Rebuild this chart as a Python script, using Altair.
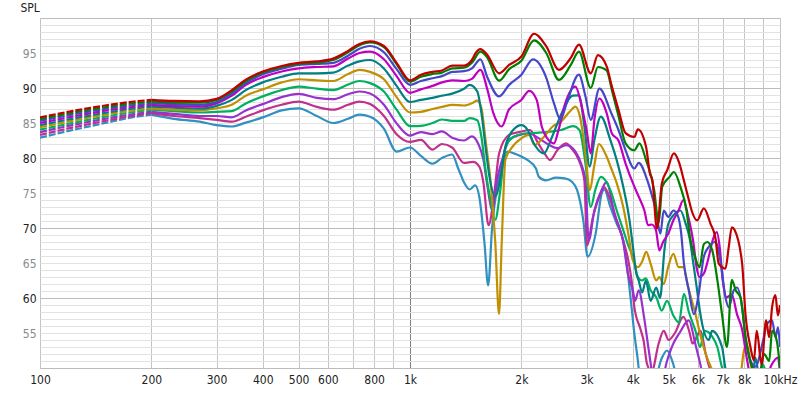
import altair as alt
import pandas as pd

FONT = "Liberation Sans Narrow, DejaVu Sans Condensed, sans-serif"

series_names = ["0°", "10°", "20°", "30°", "40°", "50°", "60°", "70°", "80°", "90°"]
series_colors = ["#c00000", "#008000", "#4646c8", "#c000c0", "#008080",
                 "#c09000", "#00b060", "#9932cc", "#c0308c", "#3090c0"]

low_freq = [100, 125, 150, 175, 200]
mid_freq = [200, 230, 270, 300, 330, 360, 400, 450, 500, 560, 620, 680, 730, 780,
            850, 920, 1000, 1070, 1150, 1220, 1300]

# ---- s0 (red)
low_s0 = [85.8, 86.8, 87.5, 88.0, 88.3]
mid_s0 = [88.3, 88.15, 88.1, 88.45, 89.7, 91.2, 92.35, 93.15, 93.6, 93.8, 94.2, 95.3, 96.3, 96.65,
          96.0, 93.6, 91.1, 91.9, 92.3, 92.5, 93.2]
hi_s0 = [(1400, 93.2), (1470, 94.0), (1505, 95.0), (1550, 95.55), (1616, 94.75), (1741, 92.1),
         (1853, 93.3), (2000, 94.5), (2164, 97.75), (2335, 95.95), (2527, 92.6), (2720, 94.3),
         (2862, 96.2), (3080, 92.1), (3220, 94.7), (3400, 93.1), (3513, 90.2), (3660, 86.9),
         (3825, 83.55), (4040, 83.0), (4129, 84.1), (4345, 81.6), (4450, 77.8), (4520, 76.8),
         (4648, 69.9), (4795, 76.4), (4960, 78.3), (5166, 80.65), (5329, 79.45), (5498, 76.8),
         (5671, 74.0), (5770, 72.5), (5970, 71.1), (6225, 72.8), (6490, 70.6), (6694, 68.5),
         (6830, 64.9), (7120, 64.2), (7270, 67.3), (7410, 70.1), (7540, 69.7), (7900, 64.9),
         (8066, 57.7), (8320, 53.0), (8500, 51.1), (8650, 55.3), (8920, 50.5), (9170, 56.8),
         (9350, 54.4), (9520, 58.7), (9720, 60.4), (9870, 57.5), (10000, 59.0)]

# ---- s1 (green)
low_s1 = [85.55, 86.55, 87.25, 87.75, 88.05]
mid_s1 = [88.05, 87.95, 87.9, 88.3, 89.5, 91.0, 92.2, 93.0, 93.45, 93.65, 94.0, 95.1, 96.1, 96.5,
          95.85, 93.4, 90.9, 91.6, 92.0, 92.2, 92.8]
hi_s1 = [(1400, 92.9), (1470, 93.6), (1550, 95.2), (1616, 94.4), (1741, 91.05), (1853, 92.7),
         (2000, 93.9), (2164, 96.8), (2335, 95.0), (2527, 91.15), (2720, 93.3), (2862, 95.2),
         (3080, 90.0), (3220, 93.0), (3400, 92.5), (3513, 89.7), (3660, 86.0), (3825, 82.1),
         (4040, 81.1), (4170, 82.1), (4345, 79.7), (4570, 75.4), (4700, 70.7), (4805, 75.9),
         (5030, 77.3), (5166, 78.0), (5380, 75.9), (5590, 72.5), (5710, 68.7), (5890, 65.9),
         (6060, 64.4), (6225, 67.7), (6360, 68.0), (6560, 66.8), (6770, 62.6), (6970, 57.7),
         (7190, 53.0), (7410, 62.6), (7590, 61.1), (7820, 60.1), (8066, 54.4), (8410, 50.1),
         (8780, 49.0), (9060, 52.0), (9350, 51.0), (9520, 55.3), (9800, 53.9), (10000, 50.0)]

# ---- s2 (blue)
low_s2 = [85.3, 86.3, 87.0, 87.5, 87.8]
mid_s2 = [87.8, 87.7, 87.6, 88.0, 89.2, 90.7, 91.95, 92.75, 93.3, 93.45, 93.6, 94.6, 95.6, 96.0,
          95.1, 92.7, 90.45, 91.0, 91.4, 91.7, 92.3]
hi_s2 = [(1400, 92.4), (1470, 92.8), (1550, 94.1), (1616, 91.6), (1741, 88.8), (1853, 90.45),
         (2000, 91.9), (2150, 94.1), (2330, 91.6), (2450, 87.8), (2550, 85.5), (2650, 87.8),
         (2860, 91.9), (2980, 88.8), (3080, 85.45), (3250, 89.9), (3500, 86.4), (3660, 84.0),
         (3825, 81.1), (4040, 78.5), (4150, 79.3), (4380, 76.8), (4520, 74.4), (4620, 72.5),
         (4750, 69.2), (4850, 72.5), (4990, 71.6), (5150, 72.5), (5290, 71.8), (5400, 69.5),
         (5500, 64.9), (5670, 61.1), (5850, 57.7), (6030, 60.6), (6225, 65.9), (6420, 67.3),
         (6690, 68.0), (6900, 65.4), (7120, 60.1), (7270, 58.7), (7500, 61.1), (7650, 61.5),
         (7900, 58.7), (8070, 54.4), (8320, 51.1), (8580, 50.2), (9000, 53.9), (9220, 56.3),
         (9520, 56.8), (9720, 54.4), (9880, 55.8), (10000, 53.0)]

# ---- s3 (magenta)
low_s3 = [85.0, 86.0, 86.75, 87.25, 87.6]
mid_s3 = [87.6, 87.4, 87.35, 87.8, 88.9, 90.45, 91.55, 92.35, 92.8, 93.0, 93.1, 94.2, 95.0, 95.2,
          94.1, 91.7, 89.3, 89.8, 90.3, 90.8, 91.1]
hi_s3 = [(1400, 91.0), (1470, 91.3), (1550, 92.6), (1620, 89.7), (1680, 86.4), (1770, 84.5),
         (1850, 86.9), (2000, 88.3), (2100, 89.6), (2200, 88.3), (2270, 84.5), (2350, 82.8),
         (2450, 82.1), (2520, 84.0), (2620, 87.6), (2800, 90.2), (2900, 87.8), (3000, 84.0),
         (3080, 80.65), (3150, 85.45), (3250, 88.5), (3400, 86.4), (3513, 83.5), (3660, 82.5),
         (3825, 79.2), (4040, 75.9), (4150, 74.5), (4300, 72.5), (4400, 70.4), (4500, 70.5),
         (4620, 69.7), (4720, 66.8), (4830, 68.0), (4990, 69.2), (5150, 71.1), (5320, 72.5),
         (5480, 74.0), (5650, 71.6), (5830, 68.0), (5950, 64.4), (6060, 63.0), (6225, 63.5),
         (6420, 65.9), (6600, 68.5), (6750, 69.4), (6880, 67.0), (7000, 62.6), (7180, 60.1),
         (7410, 60.5), (7650, 57.7), (7900, 55.5), (8150, 51.1), (8400, 48.0), (9000, 47.5),
         (9500, 50.5), (9880, 51.5), (10000, 49.0)]

# ---- s4 (teal)
low_s4 = [84.7, 85.7, 86.45, 87.0, 87.35]
mid_s4 = [87.35, 87.2, 87.05, 87.45, 88.3, 89.7, 90.8, 91.6, 92.1, 92.1, 92.2, 93.2, 93.8, 94.0,
          92.8, 90.3, 88.0, 88.3, 88.6, 88.9, 89.2]
hi_s4 = [(1400, 89.9), (1450, 90.45), (1520, 89.5), (1560, 86.4), (1600, 81.6), (1640, 77.3),
         (1700, 74.5), (1760, 77.5), (1810, 81.6), (1900, 84.0), (2000, 84.7), (2080, 84.0),
         (2160, 82.1), (2300, 80.65), (2420, 83.0), (2570, 86.4), (2750, 88.9), (2860, 88.95),
         (2960, 84.5), (3060, 78.75), (3150, 82.55), (3280, 85.9), (3480, 82.55), (3620, 79.7),
         (3770, 75.9), (3920, 71.1), (4000, 67.5), (4090, 63.5), (4150, 62.5), (4240, 60.8),
         (4340, 62.5), (4470, 59.6), (4630, 61.5), (4740, 60.0), (4870, 66.8), (4990, 70.6),
         (5150, 71.8), (5380, 72.5), (5560, 70.6), (5700, 68.5), (5850, 64.4), (5970, 61.1),
         (6080, 58.0), (6420, 54.0), (6550, 55.3), (6970, 53.0), (7150, 49.5), (7500, 48.0),
         (8400, 48.0), (8580, 51.5), (8800, 48.5), (10000, 48.0)]

# ---- s5 (gold)
low_s5 = [84.4, 85.4, 86.2, 86.75, 87.1]
mid_s5 = [87.1, 86.9, 86.8, 87.1, 87.6, 88.9, 89.8, 90.8, 91.25, 91.1, 91.0, 92.0, 92.6, 92.3,
          91.25, 88.7, 86.5, 86.6, 87.0, 87.3, 87.6]
hi_s5 = [(1400, 87.5), (1480, 87.9), (1520, 88.2), (1560, 87.1), (1600, 82.55), (1650, 76.8),
         (1700, 68.0), (1740, 57.7), (1770, 68.0), (1810, 79.7), (1880, 81.4), (2000, 82.8),
         (2100, 83.3), (2170, 81.85), (2300, 83.0), (2430, 84.5), (2560, 85.2), (2700, 86.6),
         (2800, 87.35), (2880, 85.9), (2980, 80.65), (3060, 75.4), (3150, 79.0), (3240, 82.0),
         (3380, 80.5), (3500, 78.5), (3620, 76.4), (3770, 73.0), (3890, 69.2), (4000, 65.4),
         (4130, 64.4), (4240, 65.2), (4350, 66.6), (4470, 64.9), (4630, 62.5), (4720, 63.0),
         (4850, 62.0), (4990, 64.5), (5150, 66.3), (5320, 64.4), (5480, 64.4), (5650, 61.5),
         (5910, 57.7), (6080, 54.9), (6300, 52.0), (6520, 50.0), (6840, 48.0), (7760, 48.0),
         (7990, 52.5), (8130, 53.5), (8340, 50.5), (8550, 47.5), (10000, 47.0)]

# ---- s6 (light green)
low_s6 = [84.05, 85.1, 85.9, 86.5, 86.9]
mid_s6 = [86.9, 86.7, 86.5, 86.6, 86.7, 87.8, 88.8, 89.7, 90.2, 89.9, 89.7, 90.5, 91.0, 90.7,
          89.5, 86.9, 84.55, 84.6, 85.0, 85.5, 85.3]
hi_s6 = [(1400, 85.3), (1450, 85.7), (1520, 85.4), (1560, 83.0), (1600, 78.3), (1650, 74.0),
         (1700, 71.2), (1750, 75.0), (1810, 81.4), (1900, 83.0), (2050, 83.5), (2200, 83.6),
         (2380, 83.75), (2560, 84.0), (2760, 84.55), (2870, 84.0), (2980, 79.2), (3080, 73.0),
         (3170, 75.5), (3280, 77.3), (3480, 75.4), (3620, 72.5), (3770, 69.7), (3890, 67.5),
         (4000, 65.9), (4130, 63.0), (4240, 62.5), (4340, 62.8), (4470, 61.1), (4630, 60.1),
         (4790, 58.2), (4950, 59.6), (5150, 57.5), (5330, 56.5), (5500, 60.6), (5670, 58.0),
         (5910, 55.3), (6080, 53.0), (6260, 55.3), (6560, 54.5), (6770, 53.0), (6970, 50.1),
         (7270, 48.0), (8800, 48.0), (9000, 50.5), (9300, 48.0), (10000, 48.0)]

# ---- s7 (purple)
low_s7 = [83.7, 84.8, 85.6, 86.2, 86.6]
mid_s7 = [86.6, 86.3, 86.0, 86.0, 85.8, 86.8, 87.7, 88.7, 89.15, 88.6, 88.4, 89.1, 89.5, 89.2,
          87.6, 84.95, 83.2, 83.7, 83.4, 83.8, 82.9]
hi_s7 = [(1400, 82.5), (1470, 83.1), (1530, 82.0), (1580, 79.7), (1620, 75.9), (1667, 72.5),
         (1720, 77.0), (1774, 79.7), (1850, 82.55), (1980, 83.3), (2100, 83.5), (2230, 82.8),
         (2380, 81.85), (2500, 81.4), (2650, 81.85), (2800, 80.9), (2900, 79.2), (2980, 76.8),
         (3040, 68.2), (3150, 72.5), (3300, 75.5), (3400, 76.6), (3480, 74.9), (3560, 72.1),
         (3660, 70.4), (3770, 68.0), (3880, 63.5), (4000, 61.1), (4060, 59.6), (4150, 61.1),
         (4290, 57.3), (4420, 52.5), (4550, 48.5), (4750, 47.5), (4950, 51.0), (5150, 53.5),
         (5350, 55.0), (5670, 56.8), (5900, 53.5), (6030, 51.5), (6300, 48.0), (10000, 47.0)]

# ---- s8 (pink)
low_s8 = [83.3, 84.45, 85.3, 85.95, 86.4]
mid_s8 = [86.4, 86.0, 85.7, 85.45, 85.2, 85.9, 86.8, 87.6, 88.05, 87.3, 86.9, 87.6, 88.05, 87.7,
          86.0, 83.4, 82.3, 82.6, 81.2, 82.0, 81.5]
hi_s8 = [(1400, 79.3), (1480, 79.45), (1540, 78.75), (1580, 76.4), (1630, 70.4), (1690, 75.0),
         (1741, 80.65), (1853, 83.3), (1990, 83.75), (2110, 84.0), (2210, 82.3), (2310, 80.65),
         (2390, 79.7), (2500, 81.1), (2640, 82.1), (2730, 81.4), (2860, 79.7), (2960, 76.8),
         (3010, 67.5), (3120, 71.5), (3250, 74.5), (3350, 75.8), (3480, 74.0), (3620, 71.1),
         (3770, 68.2), (3890, 65.4), (3970, 62.5), (4040, 58.7), (4200, 55.5), (4280, 53.9),
         (4370, 50.6), (4500, 49.5), (4700, 53.5), (4850, 55.3), (5000, 54.0), (5200, 55.0),
         (5480, 57.3), (5700, 55.0), (5800, 53.5), (6100, 55.3), (6300, 52.0), (6600, 49.0),
         (10000, 48.0)]

# ---- s9 (steel blue)
low_s9 = [82.9, 84.1, 85.0, 85.75, 86.2]
mid_s9 = [86.2, 85.6, 85.2, 84.7, 84.5, 85.05, 85.8, 86.8, 87.1, 86.0, 85.0, 85.6, 86.2, 85.9,
          84.2, 80.9, 81.5, 80.3, 79.2, 80.0, 80.5]
hi_s9 = [(1350, 78.5), (1400, 76.5), (1450, 75.5), (1500, 76.1), (1540, 74.4), (1590, 67.8),
         (1626, 61.8), (1667, 70.1), (1720, 75.9), (1774, 78.75), (1830, 80.9), (1900, 80.7),
         (2000, 80.2), (2080, 79.7), (2190, 78.5), (2230, 77.3), (2330, 76.8), (2480, 77.2),
         (2620, 77.1), (2740, 76.6), (2830, 75.4), (2940, 71.1), (3020, 65.9), (3175, 69.2),
         (3300, 75.0), (3350, 75.5), (3480, 73.0), (3620, 70.6), (3770, 68.2), (3890, 63.0),
         (3970, 58.7), (4040, 54.9), (4120, 51.5), (4200, 48.0), (4500, 47.0), (4800, 51.5),
         (4950, 52.5), (5150, 50.5), (5300, 48.0), (10000, 47.0)]

y_ticks = list(range(50, 101))
x_ticks = [100, 200, 300, 400, 500, 600, 700, 800, 900, 1000,
           2000, 3000, 4000, 5000, 6000, 7000, 8000, 9000, 10000]

lows = [low_s0, low_s1, low_s2, low_s3, low_s4, low_s5, low_s6, low_s7, low_s8, low_s9]
mids = [mid_s0, mid_s1, mid_s2, mid_s3, mid_s4, mid_s5, mid_s6, mid_s7, mid_s8, mid_s9]
his = [hi_s0, hi_s1, hi_s2, hi_s3, hi_s4, hi_s5, hi_s6, hi_s7, hi_s8, hi_s9]

rows = []
for idx, (name, lo, mi, hi) in enumerate(zip(series_names, lows, mids, his)):
    for f, v in zip(low_freq, lo):
        rows.append({"series": name, "f": f, "spl": v, "part": "low", "z": idx})
    for f, v in zip(mid_freq, mi):
        rows.append({"series": name, "f": f, "spl": v, "part": "main", "z": idx})
    for f, v in hi:
        rows.append({"series": name, "f": f, "spl": v, "part": "main", "z": idx})
df = pd.DataFrame(rows)

x_label_expr = ("datum.value == 10000 ? '10kHz' : "
                "(datum.value == 700 || datum.value == 900 || datum.value == 9000) ? '' : "
                "datum.value >= 1000 ? (datum.value / 1000) + 'k' : datum.label")
y_label_expr = "(datum.value % 5 == 0 && datum.value > 50 && datum.value < 100) ? datum.label : ''"

x_enc = alt.X("f:Q", scale=alt.Scale(type="log", domain=[100, 10000], nice=False),
              axis=alt.Axis(values=x_ticks, labelExpr=x_label_expr, title=None,
                            labelFlush=False, labelOverlap=False, ticks=False, domain=False,
                            labelPadding=6, labelFontSize=12, labelFont=FONT, labelColor="#222",
                            gridColor={"condition": {"test": "datum.value == 1000", "value": "#808080"},
                                       "value": "#c4c4c4"},
                            gridWidth=1))
y_enc = alt.Y("spl:Q", scale=alt.Scale(domain=[50, 100], nice=False, zero=False),
              axis=alt.Axis(values=y_ticks, labelExpr=y_label_expr, title="SPL",
                            titleAngle=0, titleAlign="left", titleBaseline="middle",
                            titleX=-20, titleY=-11, titleFont=FONT, titleFontSize=12,
                            titleFontWeight="normal", titleColor="#222",
                            labelOverlap=False, ticks=False, domain=False, labelPadding=4,
                            labelFontSize=12, labelFont=FONT,
                            labelColor={"condition": {"test": "datum.value % 10 == 0", "value": "#222"},
                                        "value": "#8a8a8a"},
                            gridColor={"condition": {"test": "datum.value % 10 == 0", "value": "#bcbcbc"},
                                       "value": "#e2e2e2"},
                            gridWidth=1))
color_enc = alt.Color("series:N", scale=alt.Scale(domain=series_names, range=series_colors), legend=None)

base = alt.Chart(df)
dashed = base.transform_filter("datum.part == 'low'").mark_line(
    strokeWidth=2.2, strokeDash=[7, 2], clip=True, interpolate="monotone"
).encode(x=x_enc, y=y_enc, color=color_enc, detail="series:N",
         order=alt.Order("f:Q"))
solid = base.transform_filter("datum.part == 'main'").mark_line(
    strokeWidth=2.2, clip=True, interpolate="monotone", strokeJoin="round"
).encode(x=x_enc, y=y_enc, color=color_enc, detail="series:N",
         order=alt.Order("f:Q"))

# draw the lowest curve first so the top curves stay on top
layers = []
for name in reversed(series_names):
    layers.append(dashed.transform_filter(alt.datum.series == name))
for name in reversed(series_names):
    layers.append(solid.transform_filter(alt.datum.series == name))

chart = alt.layer(*layers).properties(
    width=740, height=350,
    autosize=alt.AutoSizeParams(type="none"),
    padding={"left": 40, "top": 18, "right": 20, "bottom": 25},
).configure_view(stroke="#b4b4b4", strokeWidth=1).configure(background="white")

chart.save("out.html", embed_options={"renderer": "svg", "actions": False})
